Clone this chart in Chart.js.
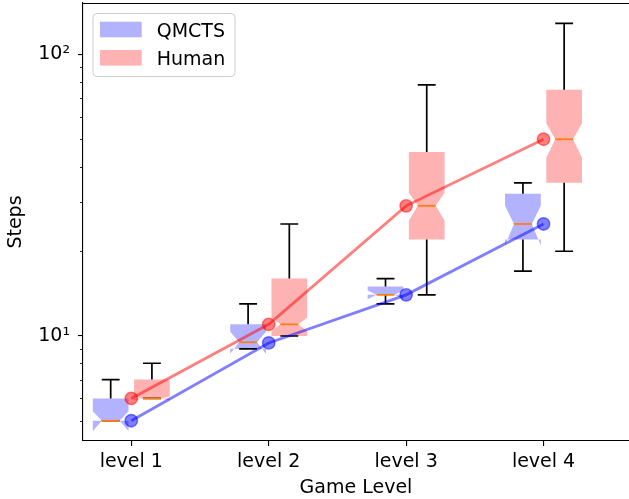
<!DOCTYPE html>
<html>
<head>
<meta charset="utf-8">
<script src="https://cdn.jsdelivr.net/npm/chart.js@4/dist/chart.umd.min.js"></script>
<style>
html,body{margin:0;padding:0;background:#fff;overflow:hidden;}
#c{display:block;}
</style>
</head>
<body>
<canvas id="c" width="629" height="499"></canvas>
<script>
// ---- data ----
const levels = ['level 1', 'level 2', 'level 3', 'level 4'];
const levelPos = [1, 2, 3, 4];
const seriesNames = ['QMCTS', 'Human'];

const qmctsWhisLo  = [5, 9, 13, 17];
const qmctsQ1      = [5, 9, 14, 22];
const qmctsMed     = [5, 9.5, 14, 25];
const qmctsQ3      = [6, 11, 15, 32];
const qmctsWhisHi  = [7, 13, 16, 35];
const qmctsNotchLo = [4.6, 8.65, 13.5, 21];
const qmctsNotchHi = [5.4, 10.35, 14.5, 29];
const qmctsMean    = [5, 9.45, 14, 25];

const humanWhisLo  = [6, 10, 14, 20];
const humanQ1      = [6, 10, 22, 35];
const humanMed     = [6, 11, 29, 50];
const humanQ3      = [7, 16, 45, 75];
const humanWhisHi  = [8, 25, 78, 129];
const humanNotchLo = [5.9, 10.4, 25.7, 43];
const humanNotchHi = [6.1, 11.6, 32.3, 57];
const humanMean    = [6, 11, 29, 50];

const yMajorTicks  = [10, 100];
const yMajorLabels = ['10\u00B9', '10\u00B2'];
const yMinorTicks  = [5, 6, 7, 8, 9, 20, 30, 40, 50, 60, 70, 80, 90];

// ---- styling ----
const FONT = 'DejaVu Sans';
const FS = 19;
const blueFill = 'rgba(0,0,255,0.3)';
const redFill = 'rgba(255,0,0,0.3)';
const blueLine = 'rgba(0,0,255,0.5)';
const redLine = 'rgba(255,0,0,0.5)';
const boxOffset = 0.15;
const boxWidth = 0.26;

const boxSeries = [
  {off: -boxOffset, fill: blueFill, lo: qmctsWhisLo, q1: qmctsQ1, med: qmctsMed, q3: qmctsQ3, hi: qmctsWhisHi, nlo: qmctsNotchLo, nhi: qmctsNotchHi},
  {off: boxOffset, fill: redFill, lo: humanWhisLo, q1: humanQ1, med: humanMed, q3: humanQ3, hi: humanWhisHi, nlo: humanNotchLo, nhi: humanNotchHi}
];

function geom(x, pos, off) {
  const cx = x.getPixelForValue(pos + off);
  const hw = (x.getPixelForValue(pos + off + boxWidth / 2) - cx);
  return {cx, hw};
}

const boxPlugin = {
  id: 'boxes',
  beforeDatasetsDraw(chart) {
    const {ctx, scales: {x, y}} = chart;
    ctx.save();
    boxSeries.forEach(s => {
      levelPos.forEach((pos, i) => {
        const {cx, hw} = geom(x, pos, s.off);
        const L = cx - hw, R = cx + hw, cL = cx - hw / 2, cR = cx + hw / 2;
        const q1 = y.getPixelForValue(s.q1[i]);
        const q3 = y.getPixelForValue(s.q3[i]);
        const md = y.getPixelForValue(s.med[i]);
        const nl = y.getPixelForValue(s.nlo[i]);
        const nh = y.getPixelForValue(s.nhi[i]);
        ctx.beginPath();
        ctx.moveTo(L, q1); ctx.lineTo(R, q1); ctx.lineTo(R, nl); ctx.lineTo(cR, md);
        ctx.lineTo(R, nh); ctx.lineTo(R, q3); ctx.lineTo(L, q3); ctx.lineTo(L, nh);
        ctx.lineTo(cL, md); ctx.lineTo(L, nl); ctx.closePath();
        ctx.fillStyle = s.fill;
        ctx.fill();
        const lo = y.getPixelForValue(s.lo[i]);
        const hi = y.getPixelForValue(s.hi[i]);
        ctx.strokeStyle = '#000';
        ctx.lineWidth = 1.7;
        ctx.beginPath();
        ctx.moveTo(cx, q1); ctx.lineTo(cx, lo);
        ctx.moveTo(cx, q3); ctx.lineTo(cx, hi);
        ctx.moveTo(cL, lo); ctx.lineTo(cR, lo);
        ctx.moveTo(cL, hi); ctx.lineTo(cR, hi);
        ctx.stroke();
      });
    });
    ctx.restore();
  },
  afterDatasetsDraw(chart) {
    const {ctx, scales: {x, y}, chartArea} = chart;
    ctx.save();
    boxSeries.forEach(s => {
      levelPos.forEach((pos, i) => {
        const {cx, hw} = geom(x, pos, s.off);
        const md = y.getPixelForValue(s.med[i]);
        ctx.strokeStyle = '#ff7f0e';
        ctx.lineWidth = 1.8;
        ctx.beginPath();
        ctx.moveTo(cx - hw / 2, md); ctx.lineTo(cx + hw / 2, md);
        ctx.stroke();
      });
    });
    // top spine
    ctx.strokeStyle = '#000';
    ctx.lineWidth = 1.1;
    ctx.beginPath();
    ctx.moveTo(chartArea.left, chartArea.top + 0.5);
    ctx.lineTo(chartArea.right, chartArea.top + 0.5);
    ctx.stroke();
    // minor y ticks
    ctx.lineWidth = 0.85;
    ctx.beginPath();
    yMinorTicks.forEach(v => {
      const py = Math.round(y.getPixelForValue(v)) + 0.5;
      ctx.moveTo(chartArea.left - 3, py);
      ctx.lineTo(chartArea.left, py);
    });
    ctx.stroke();
    // legend
    const fx = 93, fy = 13.5, fw = 142, fh = 63, r = 4;
    ctx.beginPath();
    ctx.roundRect(fx, fy, fw, fh, r);
    ctx.fillStyle = 'rgba(255,255,255,0.8)';
    ctx.fill();
    ctx.strokeStyle = '#cccccc';
    ctx.lineWidth = 1;
    ctx.stroke();
    const fills = [blueFill, redFill];
    ctx.font = FS + 'px "' + FONT + '"';
    ctx.textBaseline = 'alphabetic';
    ctx.textAlign = 'left';
    seriesNames.forEach((name, i) => {
      const py = 21.7 + i * 28.3;
      ctx.fillStyle = fills[i];
      ctx.fillRect(100, py, 41.7, 15.6);
      ctx.fillStyle = '#000';
      ctx.fillText(name, 156.7, py + 14.8);
    });
    ctx.restore();
  }
};

Chart.defaults.font.family = FONT;
Chart.defaults.color = '#000';

new Chart(document.getElementById('c'), {
  type: 'line',
  data: {
    datasets: [
      {
        label: seriesNames[0],
        data: levelPos.map((p, i) => ({x: p, y: qmctsMean[i]})),
        borderColor: blueLine, backgroundColor: blueLine,
        borderWidth: 2.8, pointRadius: 6.2, pointBorderWidth: 1.4,
        pointBackgroundColor: blueLine, pointBorderColor: blueLine,
        fill: false, tension: 0
      },
      {
        label: seriesNames[1],
        data: levelPos.map((p, i) => ({x: p, y: humanMean[i]})),
        borderColor: redLine, backgroundColor: redLine,
        borderWidth: 2.8, pointRadius: 6.2, pointBorderWidth: 1.4,
        pointBackgroundColor: redLine, pointBorderColor: redLine,
        fill: false, tension: 0
      }
    ]
  },
  options: {
    responsive: false,
    animation: false,
    devicePixelRatio: 1,
    layout: {autoPadding: false, padding: {top: 3, right: 0, bottom: 0, left: 0}},
    plugins: {legend: {display: false}, tooltip: {enabled: false}},
    scales: {
      x: {
        type: 'linear',
        min: 0.6485, max: 4.622,
        afterBuildTicks: s => { s.ticks = levelPos.map(v => ({value: v})); },
        afterFit: s => { s.height = 58; s.paddingLeft = 0; s.paddingRight = 0; s.paddingTop = 0; s.paddingBottom = 0; },
        ticks: {
          callback: (v) => levels[levelPos.indexOf(v)],
          font: {size: FS}, color: '#000', padding: 5,
          autoSkip: false, maxRotation: 0, minRotation: 0
        },
        grid: {display: true, drawOnChartArea: false, drawTicks: true, tickLength: 5, color: '#000', tickColor: '#000', lineWidth: 1.1},
        border: {display: true, color: '#000', width: 1.1},
        title: {display: true, text: 'Game Level', font: {size: FS}, color: '#000', padding: {top: 0, bottom: 0}}
      },
      y: {
        type: 'logarithmic',
        min: 4.236, max: 152.4,
        afterBuildTicks: s => { s.ticks = yMajorTicks.map(v => ({value: v})); },
        afterFit: s => { s.width = 83; s.paddingLeft = 0; s.paddingRight = 0; s.paddingTop = 0; s.paddingBottom = 0; },
        ticks: {
          callback: (v) => yMajorLabels[yMajorTicks.indexOf(v)],
          font: {size: FS}, color: '#000', padding: 8, autoSkip: false
        },
        grid: {display: true, drawOnChartArea: false, drawTicks: true, tickLength: 5, color: '#000', tickColor: '#000', lineWidth: 1.1},
        border: {display: true, color: '#000', width: 1.1},
        title: {display: true, text: 'Steps', font: {size: FS}, color: '#000', padding: {top: 5, bottom: 0}}
      }
    }
  },
  plugins: [boxPlugin]
});
</script>
</body>
</html>
